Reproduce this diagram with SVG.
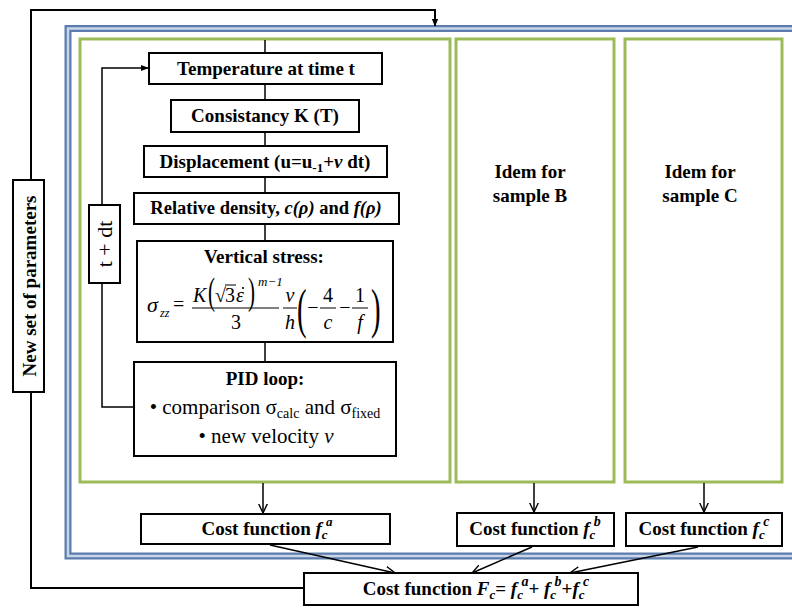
<svg xmlns="http://www.w3.org/2000/svg" width="792" height="608" viewBox="0 0 792 608" font-family="'Liberation Serif', serif">
<defs>
<style>
text, tspan{font-family:'Liberation Serif','Times New Roman',serif}
text{fill:#000}
.b{font-weight:bold;font-size:19px}
.r{font-size:21px}
.m{font-size:20px;font-style:italic}
.mu{font-size:20px}
.box{fill:#fff;stroke:#000;stroke-width:2}
.grn{fill:none;stroke:#9bbb59;stroke-width:3}
.ln{fill:none;stroke:#000;stroke-width:1.5}
.ln2{fill:none;stroke:#000;stroke-width:2}
.bar{stroke:#000;stroke-width:1}
</style>
<marker id="af" viewBox="0 0 10 10" refX="9" refY="5" markerWidth="8" markerHeight="8" orient="auto" markerUnits="userSpaceOnUse"><path d="M0,1 L10,5 L0,9 z" fill="#000"/></marker>
<marker id="ao" viewBox="0 0 10 10" refX="9.5" refY="5" markerWidth="10" markerHeight="10" orient="auto" markerUnits="userSpaceOnUse"><path d="M0,0.5 L9.5,5 L0,9.5" fill="none" stroke="#000" stroke-width="1.4"/></marker>
</defs>

<g id="frame">
<rect x="68" y="28.5" width="740" height="527.5" fill="none" stroke="#5b7cad" stroke-width="7"/>
<rect x="68" y="28.5" width="740" height="527.5" fill="none" stroke="#c9d6ea" stroke-width="2.5"/>
</g>

<g id="panelA"><rect class="grn" x="80" y="39" width="370" height="443"/></g>
<g id="panelB"><rect class="grn" x="456" y="39" width="158" height="443"/>
<text class="b" x="530" y="178" text-anchor="middle">Idem for</text>
<text class="b" x="530" y="202" text-anchor="middle">sample B</text></g>
<g id="panelC"><rect class="grn" x="625" y="39" width="157" height="443"/>
<text class="b" x="700" y="178" text-anchor="middle">Idem for</text>
<text class="b" x="700" y="202" text-anchor="middle">sample C</text></g>

<g id="connectors">
<line class="ln" x1="265" y1="40" x2="265" y2="362"/>
<polyline class="ln" points="134,407 102,407 102,68 148,68" marker-end="url(#af)"/>
<polyline class="ln2" points="305,588 31,588 31,10 435,10 435,26" marker-end="url(#af)"/>
<line class="ln" x1="263" y1="483" x2="263" y2="513" marker-end="url(#ao)"/>
<line class="ln" x1="534" y1="483" x2="534" y2="512" marker-end="url(#ao)"/>
<line class="ln" x1="704" y1="483" x2="704" y2="512" marker-end="url(#ao)"/>
<line class="ln" x1="270" y1="545" x2="395" y2="573" marker-end="url(#ao)"/>
<line class="ln" x1="532" y1="547" x2="472" y2="573" marker-end="url(#ao)"/>
<line class="ln" x1="698" y1="547" x2="570" y2="573" marker-end="url(#ao)"/>
</g>

<g id="newparams"><rect class="box" x="13" y="180" width="31" height="212"/>
<text class="b" transform="translate(35.5,286) rotate(-90)" text-anchor="middle">New set of parameters</text></g>

<g id="tdt"><rect class="box" x="89" y="205" width="31" height="78"/>
<text transform="translate(112,244) rotate(-90)" text-anchor="middle" style="font-size:22px">t + dt</text></g>

<g id="temp"><rect class="box" x="149" y="53" width="233" height="31"/>
<text class="b" x="266" y="75" text-anchor="middle">Temperature at time t</text></g>

<g id="consist"><rect class="box" x="171" y="100" width="188" height="32"/>
<text class="b" x="265" y="122" text-anchor="middle">Consistancy K (T)</text></g>

<g id="displ"><rect class="box" x="144" y="146" width="243" height="31"/>
<text class="b" x="265" y="168" text-anchor="middle">Displacement (u=u<tspan font-size="13" dy="4">-1</tspan><tspan dy="-4">+</tspan><tspan font-style="italic">v</tspan> dt)</text></g>

<g id="reldens"><rect class="box" x="134" y="193" width="265" height="31"/>
<text class="b" x="266" y="214" text-anchor="middle" style="font-size:18.5px">Relative density, <tspan font-style="italic">c(ρ)</tspan> and <tspan font-style="italic">f(ρ)</tspan></text></g>

<g id="vstress"><rect class="box" x="137" y="241" width="256" height="101"/>
<text class="b" x="264" y="263" text-anchor="middle">Vertical stress:</text>
<text class="m" x="147" y="312" style="font-size:22px">σ</text>
<text class="m" x="160" y="317" style="font-size:12px">zz</text>
<text class="mu" x="173" y="311">=</text>
<text class="m" x="193" y="302">K</text>
<text class="mu" transform="translate(208,304) scale(0.7,1.25)" style="font-size:30px">(</text>
<text class="mu" x="215" y="302">√</text>
<line class="bar" x1="225" y1="285" x2="236" y2="285"/>
<text class="mu" x="225" y="302">3</text>
<text class="m" x="236" y="302">ε</text>
<circle cx="243" cy="288" r="1.1" fill="#000"/>
<text class="mu" transform="translate(248,304) scale(0.7,1.25)" style="font-size:30px">)</text>
<text class="m" x="258" y="286" style="font-size:13px">m−1</text>
<line class="bar" x1="192" y1="308" x2="279" y2="308"/>
<text class="mu" x="236" y="329" text-anchor="middle">3</text>
<text class="m" x="290" y="302" text-anchor="middle">v</text>
<line class="bar" x1="283" y1="308" x2="297" y2="308"/>
<text class="m" x="290" y="329" text-anchor="middle">h</text>
<text class="mu" transform="translate(297,327) scale(0.6,1.15)" style="font-size:48px">(</text>
<text class="mu" x="313" y="314" text-anchor="middle">−</text>
<text class="mu" x="328" y="302" text-anchor="middle">4</text>
<line class="bar" x1="320" y1="308" x2="336" y2="308"/>
<text class="m" x="328" y="329" text-anchor="middle">c</text>
<text class="mu" x="345" y="314" text-anchor="middle">−</text>
<text class="mu" x="360" y="302" text-anchor="middle">1</text>
<line class="bar" x1="352" y1="308" x2="368" y2="308"/>
<text class="m" x="360" y="329" text-anchor="middle">f</text>
<text class="mu" transform="translate(371,327) scale(0.6,1.15)" style="font-size:48px">)</text>
</g>

<g id="pid"><rect class="box" x="134" y="362" width="262" height="94"/>
<text class="b" x="265" y="385" text-anchor="middle">PID loop:</text>
<text class="r" x="265" y="414" text-anchor="middle">• comparison σ<tspan font-size="14" dy="4">calc</tspan><tspan dy="-4"> and σ</tspan><tspan font-size="14" dy="4">fixed</tspan></text>
<text class="r" x="266" y="443" text-anchor="middle">• new velocity <tspan font-style="italic">v</tspan></text></g>

<g id="costa"><rect class="box" x="141" y="514" width="249" height="30"/>
<text class="b" x="267" y="535" text-anchor="middle">Cost function  <tspan font-style="italic">f</tspan><tspan font-style="italic" font-size="13" dy="4">c</tspan><tspan font-style="italic" font-size="13" dx="-1.5" dy="-13">a</tspan></text></g>

<g id="costb"><rect class="box" x="457" y="513" width="157" height="33"/>
<text class="b" x="535" y="535" text-anchor="middle">Cost function <tspan font-style="italic">f</tspan><tspan font-style="italic" font-size="13" dy="4">c</tspan><tspan font-style="italic" font-size="14" dx="-1.5" dy="-13">b</tspan></text></g>

<g id="costc"><rect class="box" x="626" y="513" width="156" height="33"/>
<text class="b" x="704" y="535" text-anchor="middle">Cost function <tspan font-style="italic">f</tspan><tspan font-style="italic" font-size="13" dy="4">c</tspan><tspan font-style="italic" font-size="14" dx="-1.5" dy="-13">c</tspan></text></g>

<g id="costF"><rect class="box" x="304" y="573" width="334" height="32"/>
<text class="b" x="476" y="595" text-anchor="middle">Cost function <tspan font-style="italic">F</tspan><tspan font-style="italic" font-size="13" dy="4">c</tspan><tspan dy="-4">= </tspan><tspan font-style="italic">f</tspan><tspan font-style="italic" font-size="13" dy="4">c</tspan><tspan font-style="italic" font-size="14" dx="-1.5" dy="-13">a</tspan><tspan dy="9">+ </tspan><tspan font-style="italic">f</tspan><tspan font-style="italic" font-size="13" dy="4">c</tspan><tspan font-style="italic" font-size="14" dx="-1.5" dy="-13">b</tspan><tspan dy="9">+</tspan><tspan font-style="italic">f</tspan><tspan font-style="italic" font-size="13" dy="4">c</tspan><tspan font-style="italic" font-size="14" dx="-1.5" dy="-13">c</tspan></text></g>
</svg>
